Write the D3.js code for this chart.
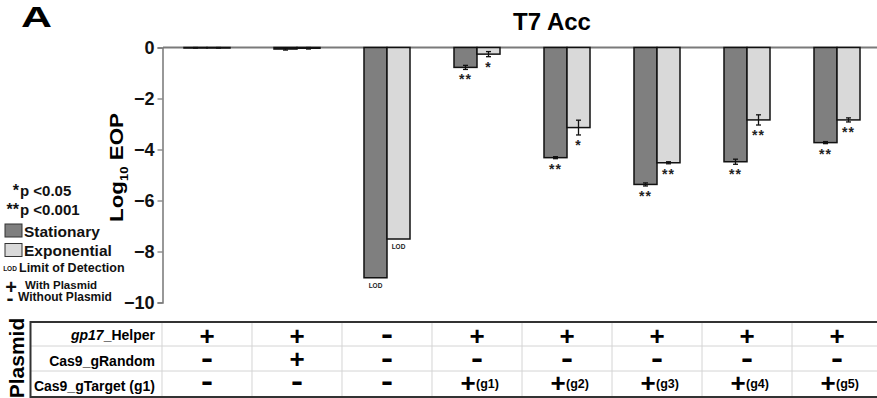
<!DOCTYPE html>
<html>
<head>
<meta charset="utf-8">
<script src="https://cdn.jsdelivr.net/npm/d3@7"></script>
<style>
  body { margin: 0; background: #fff; }
  svg { display: block; font-family: "Liberation Sans", Arial, sans-serif; }
</style>
</head>
<body>
<svg id="chart" width="877" height="398"></svg>
<script>
// Conditions along the x axis (one per table column)
const conditions = ["helper", "helper_gRandom", "none", "g1", "g2", "g3", "g4", "g5"];

// Log10 EOP, mean and error, for each growth phase
const stationary     = [-0.01, -0.06, -9.03, -0.78, -4.32, -5.37, -4.48, -3.73];
const stationaryErr  = [0.01, 0.04, 0, 0.08, 0.04, 0.06, 0.10, 0.04];
const exponential    = [-0.01, -0.03, -7.51, -0.26, -3.14, -4.52, -2.84, -2.84];
const exponentialErr = [0.01, 0.03, 0, 0.10, 0.29, 0.04, 0.20, 0.08];

// Significance marks and limit-of-detection flags
const stationarySig  = ["", "", "", "**", "**", "**", "**", "**"];
const exponentialSig = ["", "", "", "*", "*", "**", "**", "**"];
const stationaryLOD  = [false, false, true, false, false, false, false, false];
const exponentialLOD = [false, false, true, false, false, false, false, false];

// Plasmid table
const rowLabels   = ["gp17_Helper", "Cas9_gRandom", "Cas9_gTarget (g1)"];
const helperRow   = ["+", "+", "-", "+", "+", "+", "+", "+"];
const randomRow   = ["-", "+", "-", "-", "-", "-", "-", "-"];
const targetRow   = ["-", "-", "-", "+", "+", "+", "+", "+"];
const targetGuide = ["", "", "", "(g1)", "(g2)", "(g3)", "(g4)", "(g5)"];

const yTicks = [0, -2, -4, -6, -8, -10];
const phases = ["Stationary", "Exponential"];
const phaseColors = ["#7f7f7f", "#d9d9d9"];

const svg = d3.select("#chart");

const y = d3.scaleLinear().domain([-10, 0]).range([302.5, 47.5]);
const x0 = d3.scaleBand().domain(conditions).range([163, 881])
  .paddingInner(0.4889).paddingOuter(0.2333);
const x1 = d3.scaleBand().domain(phases).range([0, x0.bandwidth()]);

// Panel letter and title
svg.append("text").attr("x", 21).attr("y", 27)
  .attr("font-size", 30).attr("font-weight", "bold")
  .attr("textLength", 31).attr("lengthAdjust", "spacingAndGlyphs").text("A");
svg.append("text").attr("x", 552).attr("y", 30).attr("text-anchor", "middle")
  .attr("font-size", 24).attr("font-weight", "bold").text("T7 Acc");

// Zero line across the plot
svg.append("line").attr("x1", 163).attr("x2", 877)
  .attr("y1", y(0)).attr("y2", y(0))
  .attr("stroke", "#7a7a7a").attr("stroke-width", 2);

// Y axis
const yAxis = d3.axisLeft(y).tickValues(yTicks).tickSize(5).tickPadding(3)
  .tickFormat(d3.format("d"));
const gy = svg.append("g").attr("transform", "translate(162.5,0)").call(yAxis);
gy.select(".domain").attr("stroke", "#777").attr("stroke-width", 1.5);
gy.selectAll(".tick line").attr("stroke", "#777").attr("stroke-width", 1.2);
gy.selectAll(".tick text").attr("font-size", 18).attr("font-weight", "bold")
  .attr("fill", "#111").attr("font-family", "Liberation Sans, Arial, sans-serif")
  .attr("dy", "0.36em");

// Y axis title
const yt = svg.append("text")
  .attr("transform", "translate(123,167.5) rotate(-90)")
  .attr("text-anchor", "middle").attr("font-size", 19).attr("font-weight", "bold")
  .attr("textLength", 109).attr("lengthAdjust", "spacingAndGlyphs");
yt.append("tspan").text("Log");
yt.append("tspan").attr("dy", 5).attr("font-size", 11).text("10");
yt.append("tspan").attr("dy", -5).text(" EOP");

// Bars
const series = [
  { vals: stationary, err: stationaryErr, sig: stationarySig, lod: stationaryLOD },
  { vals: exponential, err: exponentialErr, sig: exponentialSig, lod: exponentialLOD }
];
series.forEach((s, si) => {
  const g = svg.append("g");
  conditions.forEach((c, i) => {
    const v = s.vals[i];
    const bx = x0(c) + x1(phases[si]);
    const bw = x1.bandwidth();
    g.append("rect").attr("x", bx).attr("y", y(0))
      .attr("width", bw).attr("height", Math.max(0.5, y(v) - y(0)))
      .attr("fill", phaseColors[si]).attr("stroke", "#111").attr("stroke-width", 1.5);
    const cx = bx + bw / 2;
    if (s.err[i] > 0) {
      const lo = y(v - s.err[i]), hi = y(v + s.err[i]);
      g.append("line").attr("x1", cx).attr("x2", cx).attr("y1", hi).attr("y2", lo)
        .attr("stroke", "#111").attr("stroke-width", 1.3);
      [hi, lo].forEach(yy => g.append("line").attr("x1", cx - 2.5).attr("x2", cx + 2.5)
        .attr("y1", yy).attr("y2", yy).attr("stroke", "#111").attr("stroke-width", 1.3));
    }
    if (s.sig[i]) {
      g.append("text").attr("x", cx).attr("y", y(v - s.err[i]) + 15)
        .attr("text-anchor", "middle").attr("font-size", 14).attr("font-weight", "bold")
        .attr("letter-spacing", 1).attr("fill", "#222").text(s.sig[i]);
    }
    if (s.lod[i]) {
      g.append("text").attr("x", cx).attr("y", y(v) + 10)
        .attr("text-anchor", "middle").attr("font-size", 6.5).attr("font-weight", "bold")
        .attr("fill", "#222").text("LOD");
    }
  });
});

// Legend
const lg = svg.append("g").attr("font-weight", "bold").attr("fill", "#111");
lg.append("text").attr("x", 19).attr("y", 196).attr("text-anchor", "end").attr("font-size", 16).text("*");
lg.append("text").attr("x", 20).attr("y", 196).attr("font-size", 15).text("p <0.05");
lg.append("text").attr("x", 19).attr("y", 215).attr("text-anchor", "end").attr("font-size", 16).text("**");
lg.append("text").attr("x", 20).attr("y", 215).attr("font-size", 15).text("p <0.001");
phases.forEach((p, i) => {
  const yy = 224 + i * 19.5;
  lg.append("rect").attr("x", 5).attr("y", yy).attr("width", 17).attr("height", 13)
    .attr("fill", phaseColors[i]).attr("stroke", "#333").attr("stroke-width", 1);
  lg.append("text").attr("x", 24).attr("y", yy + 12.5).attr("font-size", 15.5).text(p);
});
lg.append("text").attr("x", 10).attr("y", 271).attr("text-anchor", "middle")
  .attr("font-size", 6.5).text("LOD");
lg.append("text").attr("x", 19).attr("y", 272).attr("font-size", 12.5).text("Limit of Detection");
lg.append("text").attr("x", 11).attr("y", 294).attr("text-anchor", "middle")
  .attr("font-size", 20).text("+");
lg.append("text").attr("x", 25).attr("y", 289).attr("font-size", 11.5).text("With Plasmid");
lg.append("text").attr("x", 10).attr("y", 305).attr("text-anchor", "middle")
  .attr("font-size", 20).attr("textLength", 7).attr("lengthAdjust", "spacingAndGlyphs").text("-");
lg.append("text").attr("x", 18).attr("y", 301).attr("font-size", 12).text("Without Plasmid");

// Plasmid table
const tTop = 322, tBot = 397, rowLines = [346, 371];
const tb = svg.append("g");
const dividers = conditions.map(c => x0(c) - x0.step() * x0.paddingInner() / 2);
dividers.forEach(dx => tb.append("line").attr("x1", dx).attr("x2", dx)
  .attr("y1", tTop).attr("y2", tBot).attr("stroke", "#d4d4d4").attr("stroke-width", 1));
rowLines.forEach(ry => tb.append("line").attr("x1", 30).attr("x2", 877)
  .attr("y1", ry).attr("y2", ry).attr("stroke", "#d4d4d4").attr("stroke-width", 1));
tb.append("path").attr("d", `M877,${tTop}H30.5V${tBot}H877`)
  .attr("fill", "none").attr("stroke", "#333").attr("stroke-width", 2);

svg.append("text").attr("transform", "translate(24,358) rotate(-90)")
  .attr("text-anchor", "middle").attr("font-size", 21).attr("font-weight", "bold")
  .text("Plasmid");

const rowBase = [339.5, 365.5, 391];
const lab0 = tb.append("text").attr("x", 155).attr("y", rowBase[0]).attr("text-anchor", "end")
  .attr("font-size", 14).attr("font-weight", "bold");
lab0.append("tspan").attr("font-style", "italic").text(rowLabels[0].slice(0, 4));
lab0.append("tspan").text(rowLabels[0].slice(4));
[1, 2].forEach(r => tb.append("text").attr("x", 155).attr("y", rowBase[r])
  .attr("text-anchor", "end").attr("font-size", 14).attr("font-weight", "bold").text(rowLabels[r]));

const symCenters = [335.5, 359, 382.5];
function drawSymbol(sym, cx, cy) {
  if (sym === "+") {
    tb.append("text").attr("x", cx).attr("y", cy + 9).attr("text-anchor", "middle")
      .attr("font-size", 26).attr("font-weight", "bold").text("+");
  } else {
    // widened bold hyphen
    tb.append("text").attr("x", cx - 6).attr("y", cy + 8.5)
      .attr("font-size", 30).attr("font-weight", "bold")
      .attr("textLength", 12).attr("lengthAdjust", "spacingAndGlyphs").text("-");
  }
}
[helperRow, randomRow, targetRow].forEach((row, r) => {
  conditions.forEach((c, i) => {
    const cx = x0(c) + x0.bandwidth() / 2;
    if (r === 2 && targetGuide[i]) {
      drawSymbol(row[i], cx - 9, symCenters[r]);
      tb.append("text").attr("x", cx - 1).attr("y", 388)
        .attr("font-size", 12.5).attr("font-weight", "bold").text(targetGuide[i]);
    } else {
      drawSymbol(row[i], cx, symCenters[r]);
    }
  });
});
</script>
</body>
</html>
